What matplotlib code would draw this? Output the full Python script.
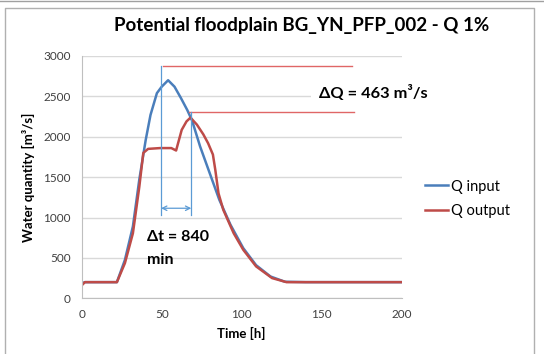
import matplotlib
matplotlib.use("Agg")
import matplotlib.pyplot as plt
from matplotlib.lines import Line2D

plt.rcParams["font.family"] = ["Lato", "DejaVu Sans"]

# hydrograph (time in h, discharge in m3/s)
t_in = [0, 2, 22, 27, 32, 36, 40, 43, 47, 50, 54, 58, 62, 66, 69, 74, 80, 86, 93, 101, 109, 118, 127, 140, 170, 200]
q_in = [185, 200, 200, 475, 890, 1470, 1960, 2270, 2540, 2620, 2700, 2620, 2480, 2330, 2200, 1880, 1550, 1220, 910, 620, 410, 270, 205, 200, 200, 200]

t_out = [0, 2, 22, 27, 32, 36, 38.5, 41.5, 49, 56, 59, 62.5, 65.5, 68, 72, 76, 79, 82, 83.5, 85.5, 88.5, 95, 101, 109, 119, 128, 140, 170, 200]
q_out = [160, 200, 200, 435, 805, 1380, 1800, 1850, 1860, 1860, 1830, 2085, 2190, 2237, 2150, 2030, 1920, 1780, 1590, 1300, 1095, 805, 600, 395, 250, 200, 200, 200, 200]

x_ticks = [0, 50, 100, 150, 200]
y_ticks = [0, 500, 1000, 1500, 2000, 2500, 3000]

title = "Potential floodplain BG_YN_PFP_002 - Q 1%"

blue = "#4a7ebb"
red = "#be4b48"
light_blue = "#5b9bd5"
light_red = "#e06666"

fig = plt.figure(figsize=(5.44, 3.54), dpi=100)

# chart frame
fig.add_artist(Line2D([0, 1], [0.997, 0.997], color="#a0a0a0", lw=1.0))
fig.add_artist(Line2D([4.5 / 544, 4.5 / 544, 534 / 544, 534 / 544], [0, 1 - 7.5 / 354, 1 - 7.5 / 354, 0],
                      color="#b0b0b0", lw=1.0))

ax = fig.add_axes([81.7 / 544, 1 - 298.3 / 354, 320 / 544, 242.3 / 354])
ax.set_xlim(0, 200)
ax.set_ylim(0, 3000)
ax.set_xticks(x_ticks)
ax.set_yticks(y_ticks)
ax.tick_params(length=0, labelsize=8.5, labelcolor="#404040", pad=8)
ax.grid(axis="y", color="#d9d9d9", lw=1.0)
ax.set_axisbelow(True)
for s in ["top", "right"]:
    ax.spines[s].set_visible(False)
for s in ["left", "bottom"]:
    ax.spines[s].set_color("#bfbfbf")

ax.plot(t_in, q_in, color=blue, lw=1.8, label="Q input")
ax.plot(t_out, q_out, color=red, lw=1.8, label="Q output")

# peak markers
ax.plot([50.6, 169], [2879, 2879], color=light_red, lw=1.0)
ax.plot([67.3, 170], [2312, 2312], color=light_red, lw=1.0)
ax.plot([49.6, 49.6], [1032, 2870], color=light_blue, lw=0.9)
ax.plot([68.5, 68.5], [1032, 2312], color=light_blue, lw=0.9)
ax.annotate("", xy=(68.5, 1115), xytext=(49.6, 1115),
            arrowprops=dict(arrowstyle="<->", color=light_blue, lw=0.9,
                            shrinkA=0, shrinkB=0, mutation_scale=8))

ax.text(148.3, 2544, "ΔQ = 463 m³/s", fontsize=11.8, fontweight="bold", va="center", ha="left",
        bbox=dict(facecolor="white", edgecolor="none", pad=6))
ax.text(40.8, 760, "Δt = 840", fontsize=11.5, fontweight="bold", va="center", ha="left")
ax.text(40.8, 475, "min", fontsize=11.5, fontweight="bold", va="center", ha="left")

ax.set_xlabel("Time [h]", fontsize=9.5, fontweight="bold", labelpad=5)
ax.set_ylabel("Water quantity [m³/s]", fontsize=9.5, fontweight="bold", labelpad=6)
fig.text(302 / 544, 1 - 25 / 354, title, fontsize=13.5, fontweight="bold", ha="center", va="center")

ax.legend(loc="center left", bbox_to_anchor=(425 / 544, 1 - 199 / 354), bbox_transform=fig.transFigure,
          frameon=False, fontsize=10.5, handlelength=1.6, handletextpad=0.2, labelspacing=0.75,
          borderaxespad=0, borderpad=0)

fig.savefig("out.png", dpi=100)
